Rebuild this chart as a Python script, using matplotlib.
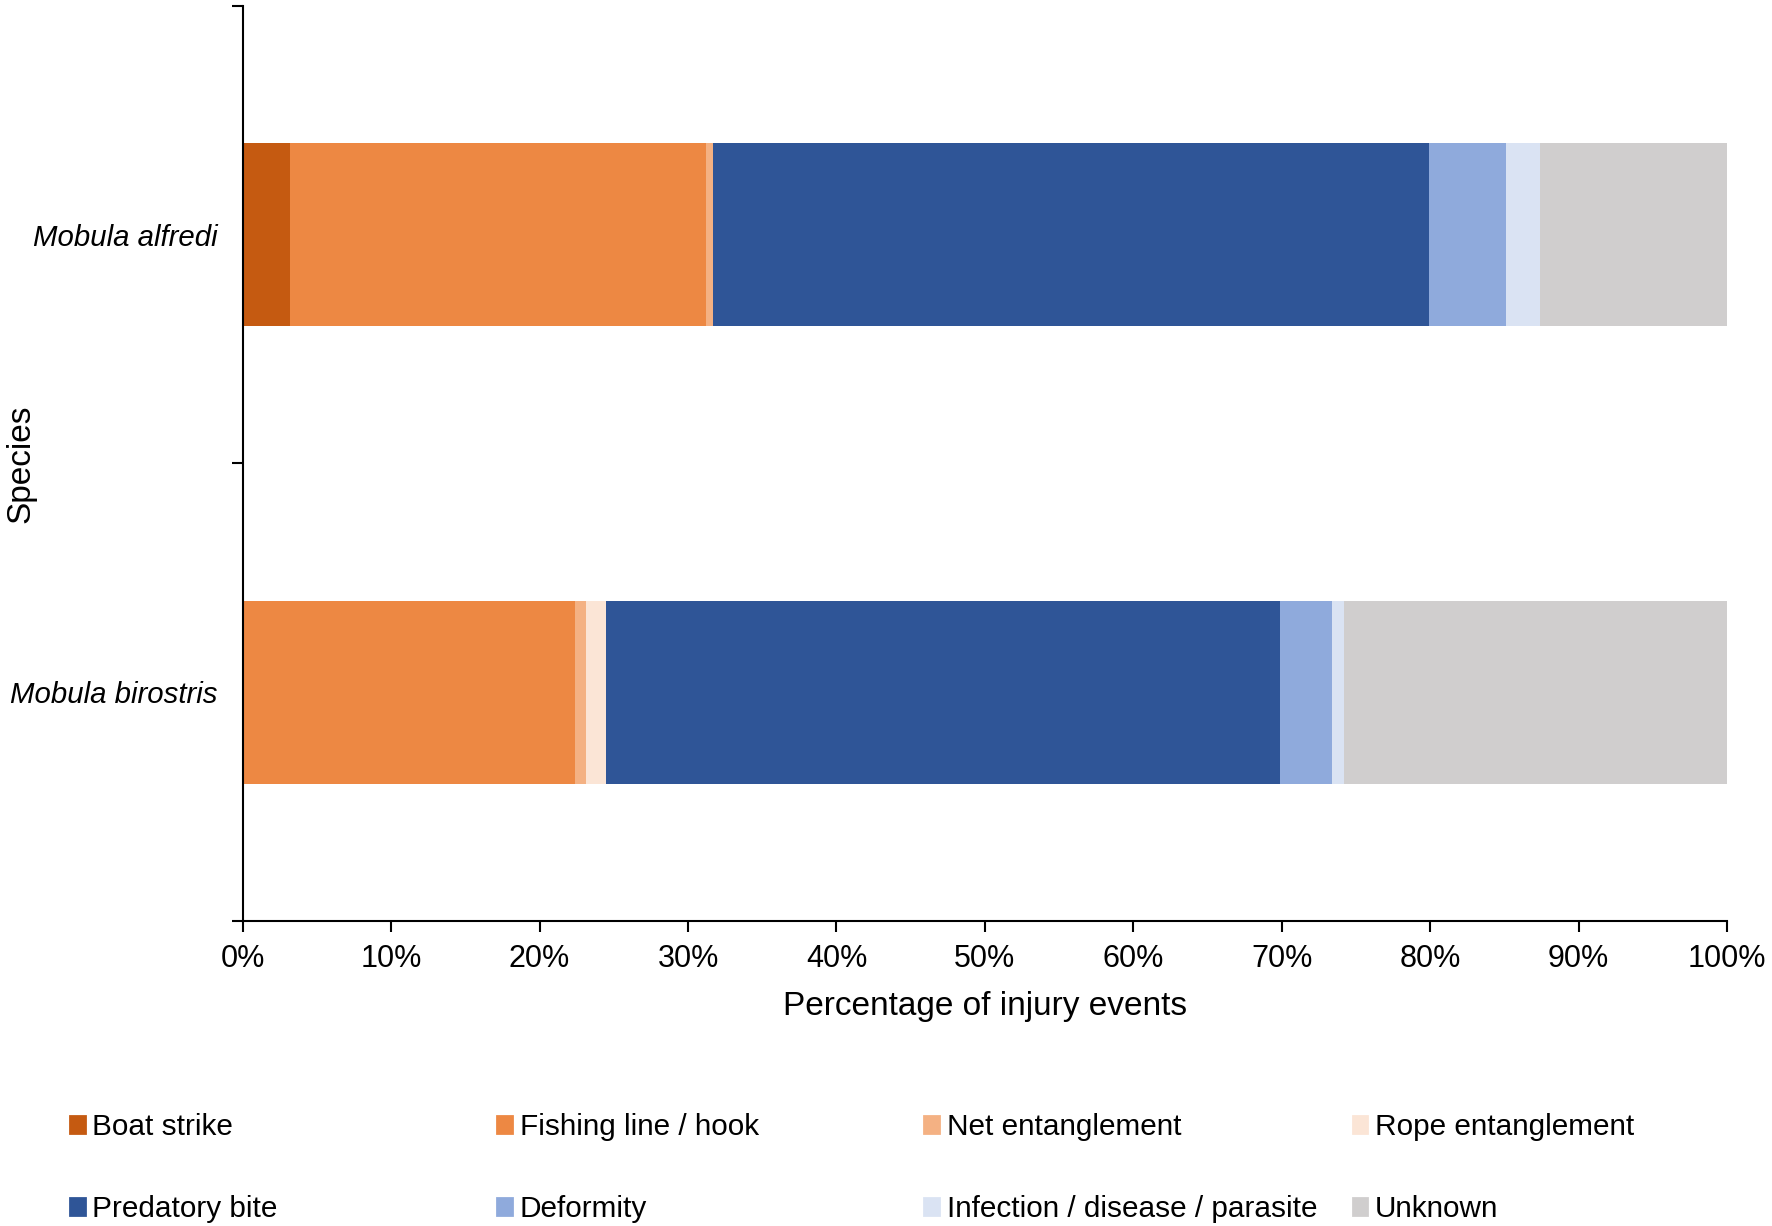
import numpy as np
import matplotlib
matplotlib.use('Agg')
import matplotlib.pyplot as plt
import matplotlib.patches as mpatches

plt.rcParams['font.family'] = ['Liberation Sans', 'DejaVu Sans']

# ── Data (percent of injury events) ───────────────────────────────────────────
species    = ['Mobula birostris', 'Mobula alfredi']
categories = ['Boat strike', 'Fishing line / hook', 'Net entanglement',
              'Rope entanglement', 'Predatory bite', 'Deformity',
              'Infection / disease / parasite', 'Unknown']
birostris  = [0.0, 22.4, 0.7, 1.4, 45.4, 3.5, 0.8, 25.8]
alfredi    = [3.2, 28.0, 0.5, 0.0, 48.2, 5.2, 2.3, 12.6]
colors     = ['#C55A11', '#ED8843', '#F4B183', '#FBE5D6',
              '#2F5597', '#8FAADC', '#DAE3F3', '#D0CECE']

values = np.array([birostris, alfredi])   # rows follow `species`

# ── Plot ──────────────────────────────────────────────────────────────────────
fig = plt.figure(figsize=(8.86, 6.13), dpi=200)
ax = fig.add_axes([0.137, 0.249, 0.8376, 0.746])

y = np.arange(len(species))
left = np.zeros(len(species))
handles = []
for i, cat in enumerate(categories):
    ax.barh(y, values[:, i], left=left, height=0.4,
            color=colors[i], edgecolor='none', zorder=2)
    left += values[:, i]
    handles.append(mpatches.Patch(color=colors[i], label=cat))

ax.set_xlim(0, 100)
ax.set_ylim(-0.5, len(species) - 0.5)
ax.set_xticks(np.arange(0, 101, 10))
ax.set_xticklabels([f'{t}%' for t in range(0, 101, 10)], fontsize=11)
ax.set_yticks(y)
ax.set_yticklabels(species, fontsize=10.6, style='italic')
ax.set_yticks(np.arange(-0.5, len(species), 1.0), minor=True)
ax.tick_params(axis='y', which='major', length=0, pad=9)
ax.tick_params(axis='y', which='minor', length=4, width=0.75, direction='out')
ax.tick_params(axis='x', length=4, width=0.75, direction='out', pad=4.5)

for side in ['top', 'right']:
    ax.spines[side].set_visible(False)
for side in ['left', 'bottom']:
    ax.spines[side].set_linewidth(0.75)

ax.set_xlabel('Percentage of injury events', fontsize=12, labelpad=6)
ax.set_ylabel('Species', fontsize=12)
ax.yaxis.set_label_coords(-0.139, 0.5)

# ── Legend: 2 rows x 4 evenly spaced columns ─────────────────────────────────
col_x = [0.0395, 0.2806, 0.5216, 0.7633]
ncols = 4
for c in range(ncols):
    col_handles = [handles[c], handles[c + ncols]]
    fig.legend(handles=col_handles, loc='center left',
               bbox_to_anchor=(col_x[c], 0.0476), frameon=False,
               fontsize=10.7, handlelength=0.5, handleheight=0.5,
               handletextpad=0.25, labelspacing=1.82,
               borderpad=0, borderaxespad=0)

plt.savefig('out.png', dpi=200)
